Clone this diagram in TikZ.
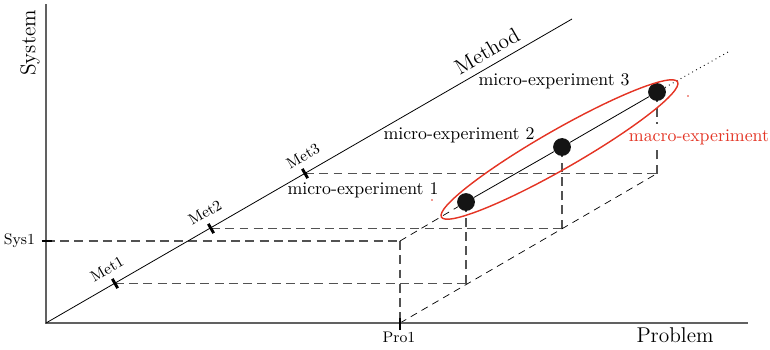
\documentclass[tikz,border=0pt]{standalone}
\usetikzlibrary{calc,shapes.geometric}
\definecolor{expred}{RGB}{228,52,36}
\begin{document}
\begin{tikzpicture}[x=0.5615pt,y=-0.5615pt,
  axis/.style={draw=black!62, line width=0.8pt},
  methodline/.style={draw=black, line width=0.45pt},
  guide/.style={draw=black!68, line width=0.6pt, dash pattern=on 5pt off 3pt},
  diag/.style={draw=black, line width=0.4pt, dash pattern=on 4pt off 3pt},
  tickmark/.style={draw=black, line width=1.6pt},
  expdot/.style={circle, fill=black!92, inner sep=0pt, minimum size=10pt},
  macroell/.style={draw=expred, line width=0.8pt, ellipse, inner sep=0pt,
    minimum width=152.8pt, minimum height=21.8pt, rotate=29.8},
  lbl/.style={inner sep=0pt, font=\normalsize},
  biglbl/.style={inner sep=0pt, font=\large},
  smalllbl/.style={inner sep=0pt, font=\fontsize{8.6}{10}\selectfont}]
\useasboundingbox (0,0) rectangle (770,349);

% coordinates
\coordinate (O) at (46,323);
\coordinate (Ytop) at (46,4);
\coordinate (Xend) at (748,323);
\coordinate (Mend) at (572,19);
\coordinate (S1) at (46,241);
\coordinate (P1) at (400,323);
\coordinate (M1) at (115,283.5);
\coordinate (M2) at (211,228.5);
\coordinate (M3) at (305,173.5);
\coordinate (B) at (400,241);
\coordinate (A1) at (466,283.5);
\coordinate (A2) at (562,228.5);
\coordinate (A3) at (657,173.5);
\coordinate (E) at (728,52);
\coordinate (EC) at (559.5,149.5);

% dots
\node[expdot] (D1) at (466,202) {};
\node[expdot] (D2) at (562,147) {};
\node[expdot] (D3) at (657,92) {};

% guide lines
\draw[guide] (S1) -- (B);
\draw[guide] (B) -- (P1);
\draw[guide] (M1) -- (A1);
\draw[guide] (A1) -- (D1);
\draw[guide] (M2) -- (A2);
\draw[guide] (A2) -- (D2);
\draw[guide] (M3) -- (A3);
\draw[guide] (A3) -- (D3);
\draw[diag] (P1) -- (A3);
\draw[diag] (B) -- (D1);
\draw[black, line width=0.45pt] (D1) -- (D2) -- (D3);
\draw[black, line width=0.5pt, dotted] (D3) -- (E);

% axes
\draw[axis] (Ytop) -- (O) -- (Xend);
\draw[methodline] (O) -- (Mend);

% ticks
\draw[tickmark] ([xshift=-2.4pt]S1) -- ([xshift=3.6pt]S1);
\draw[tickmark] ([yshift=2.8pt]P1) -- ([yshift=-3.9pt]P1);
\draw[tickmark] ([shift={(120:3pt)}]M1) -- ([shift={(-60:3pt)}]M1);
\draw[tickmark] ([shift={(120:3pt)}]M2) -- ([shift={(-60:3pt)}]M2);
\draw[tickmark] ([shift={(120:3pt)}]M3) -- ([shift={(-60:3pt)}]M3);

% labels
\node[biglbl, rotate=90] (tsys) at (30,43) {System};
\node[biglbl, rotate=30] (tmeth) at (487,51) {Method};
\node[biglbl] (tprob) at (675,335.5) {Problem};
\node[lbl] (tm3) at (554,81.5) {micro-experiment 3};
\node[lbl] (tm2) at (459,135) {micro-experiment 2};
\node[lbl] (tm1) at (363,190) {micro-experiment 1};
\node[lbl, text=expred, fill=white, inner xsep=0pt, inner ysep=3pt] (tmacro) at (699,137) {macro-experiment};
\node[smalllbl] (tsys1) at (19.5,241) {Sys1};
\node[smalllbl] (tpro1) at (399,337) {Pro1};
\node[smalllbl, rotate=30] (tmet1) at (107,269) {Met1};
\node[smalllbl, rotate=30] (tmet2) at (205,212.5) {Met2};
\node[smalllbl, rotate=30] (tmet3) at (303,156) {Met3};

% macro ellipse
\node[macroell] (ell) at (EC) {};
\fill[expred] (432,200) circle (0.45pt);
\fill[expred] (688,96) circle (0.45pt);
\end{tikzpicture}
\end{document}
